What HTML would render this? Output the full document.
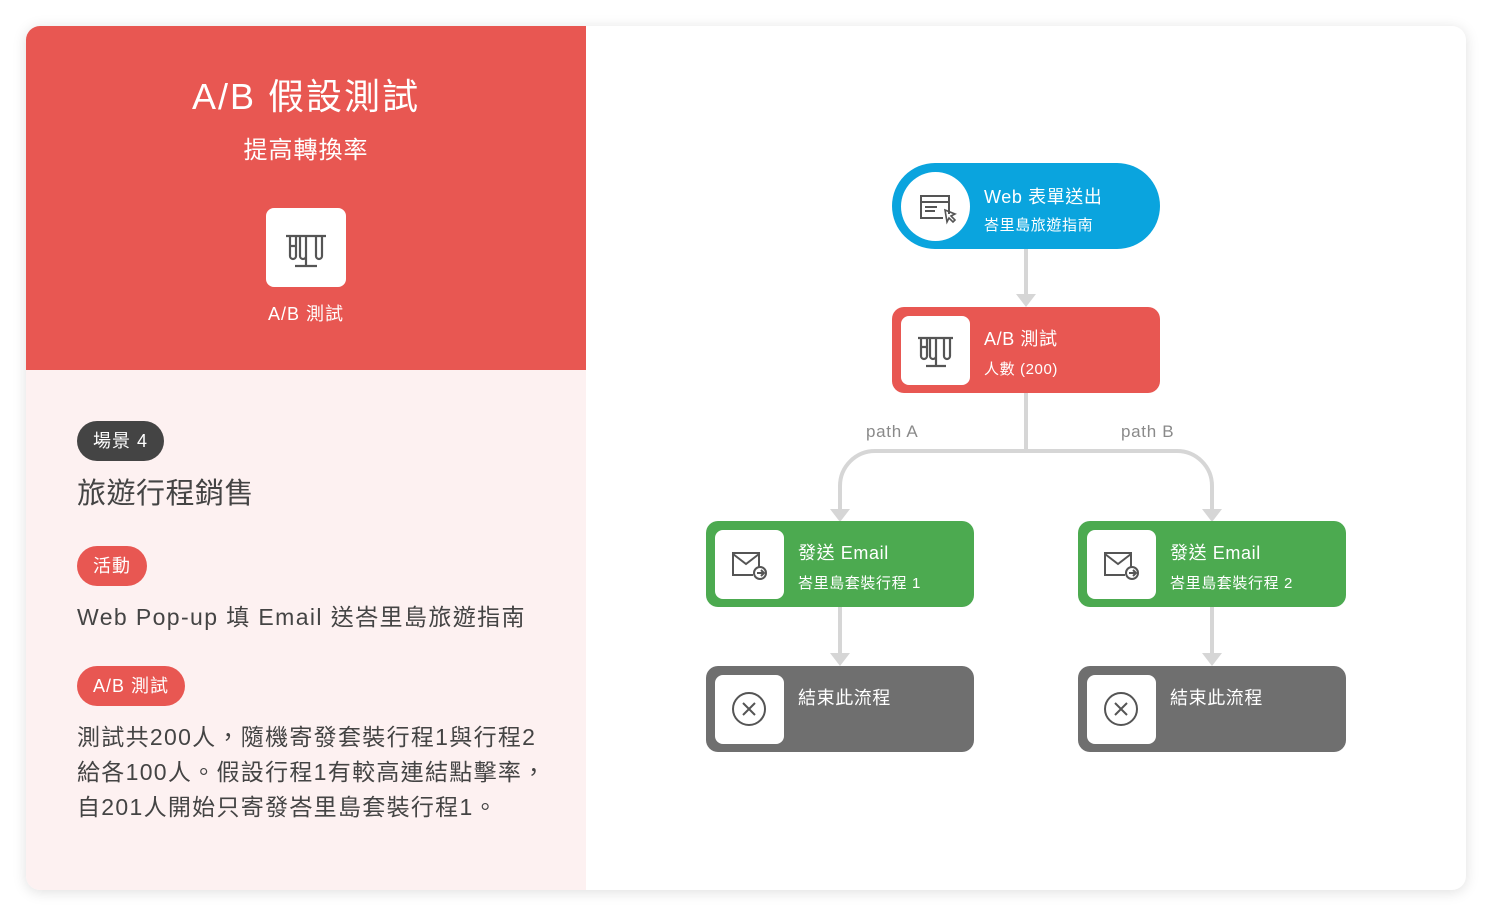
<!DOCTYPE html>
<html><head><meta charset="utf-8">
<style>
*{margin:0;padding:0;box-sizing:border-box}
body{width:1492px;height:916px;background:#fff;position:relative;overflow:hidden;font-family:"Liberation Sans","Noto Sans CJK TC",sans-serif}
.card{position:absolute;left:26px;top:26px;width:1440px;height:864px;border-radius:14px;background:#fff;box-shadow:0 2px 14px rgba(0,0,0,.13);overflow:hidden}
.red{position:absolute;left:0;top:0;width:560px;height:344px;background:#e85752}
.pink{position:absolute;left:0;top:344px;width:560px;height:520px;background:#fdf1f1}
.a{position:absolute;white-space:nowrap}
.pill{position:absolute;height:40px;border-radius:20px;color:#fff;font-size:18px;line-height:40px;padding:0 16px;letter-spacing:1px}
.node{position:absolute;width:268px;height:86px;border-radius:12px;color:#fff;letter-spacing:.6px}
.ib{position:absolute;left:9px;top:9px;width:69px;height:69px;background:#fff;border-radius:8px}
.t1{position:absolute;left:92px;top:18px;font-size:18px}
.t2{position:absolute;left:92px;top:51px;font-size:15px}
</style></head><body>
<div class="card">
<div class="red"></div>
<div class="pink"></div>
<div class="a" style="left:0;width:560px;text-align:center;top:42px;font-size:36px;color:#fff;letter-spacing:2px">A/B 假設測試</div>
<div class="a" style="left:0;width:560px;text-align:center;top:104px;font-size:24px;color:#fff;letter-spacing:1px">提高轉換率</div>
<div class="a" style="left:240px;top:182px;width:80px;height:79px;background:#fff;border-radius:8px">
<svg width="80" height="79" viewBox="0 0 80 79"><g fill="none" stroke="#555" stroke-width="2.2"><path d="M20 28h40M24 28v20a3 3 0 0 0 6 0V28M34 28v20a3 3 0 0 0 6 0V28M50 28v20a3 3 0 0 0 6 0V28M40 28v30M29 58h22M24 38h6"/></g></svg></div>
<div class="a" style="left:0;width:560px;text-align:center;top:274px;font-size:18px;color:#fff;letter-spacing:1px">A/B 測試</div>

<div class="pill" style="left:51px;top:395px;background:#444">場景 4</div>
<div class="a" style="left:51px;top:444px;font-size:29px;color:#444;letter-spacing:.5px">旅遊行程銷售</div>
<div class="pill" style="left:51px;top:520px;background:#e85752">活動</div>
<div class="a" style="left:51px;top:572px;font-size:23px;color:#444;letter-spacing:1.4px">Web Pop-up 填 Email 送峇里島旅遊指南</div>
<div class="pill" style="left:51px;top:640px;background:#e85752">A/B 測試</div>
<div class="a" style="left:51px;top:694px;font-size:23px;line-height:35px;color:#444;letter-spacing:1.3px">測試共200人，隨機寄發套裝行程1與行程2<br>給各100人。假設行程1有較高連結點擊率，<br>自201人開始只寄發峇里島套裝行程1。</div>
</div>

<svg style="position:absolute;left:0;top:0" width="1492" height="916">
<g fill="none" stroke="#d6d6d6" stroke-width="4">
<path d="M1026 249V296"/>
<path d="M1026 393V451M1026 451H875a35 35 0 0 0 -35 35V510M1026 451H1177a35 35 0 0 1 35 35V510"/>
<path d="M840 607V655M1212 607V655"/>
</g>
<g fill="#d6d6d6">
<path d="M1016 294h20l-10 13z"/>
<path d="M830 509h20l-10 13z"/><path d="M1202 509h20l-10 13z"/>
<path d="M830 653h20l-10 13z"/><path d="M1202 653h20l-10 13z"/>
</g>
</svg>
<div class="a" style="left:866px;top:422px;font-size:17px;color:#8a8a8a;letter-spacing:.7px">path A</div>
<div class="a" style="left:1121px;top:422px;font-size:17px;color:#8a8a8a;letter-spacing:.7px">path B</div>

<div class="node" style="left:892px;top:163px;border-radius:43px;background:#0aa4de">
<div class="a" style="left:9px;top:9px;width:69px;height:69px;border-radius:50%;background:#fff">
<svg width="69" height="69"><g fill="none" stroke="#555" stroke-width="2"><path d="M48 42V24H20v22h22M20 30h28M24 35h12M24 39h10"/><path d="M44 38l10 4-4 2 4 4-2 2-4-4-2 4z" stroke-width="1.6"/></g></svg></div>
<div class="t1" style="top:20px">Web 表單送出</div><div class="t2" style="top:51px">峇里島旅遊指南</div></div>

<div class="node" style="left:892px;top:307px;background:#e85752"><div class="ib">
<svg width="69" height="69"><g fill="none" stroke="#555" stroke-width="2.2"><path d="M17 22h35M20 22v18a3 3 0 0 0 6 0V22M29 22v18a3 3 0 0 0 6 0V22M43 22v18a3 3 0 0 0 6 0V22M35 22v28M25 50h20M20 31h6"/></g></svg></div>
<div class="t1">A/B 測試</div><div class="t2">人數 (200)</div></div>

<div class="node" style="left:706px;top:521px;background:#4caa50"><div class="ib">
<svg width="69" height="69"><g fill="none" stroke="#555" stroke-width="2"><path d="M44 38V23H18v22h20M18 24l13 10 13-10"/><circle cx="45" cy="43" r="6"/><path d="M42 43h6M46 40l3 3-3 3"/></g></svg></div>
<div class="t1">發送 Email</div><div class="t2">峇里島套裝行程 1</div></div>

<div class="node" style="left:1078px;top:521px;background:#4caa50"><div class="ib">
<svg width="69" height="69"><g fill="none" stroke="#555" stroke-width="2"><path d="M44 38V23H18v22h20M18 24l13 10 13-10"/><circle cx="45" cy="43" r="6"/><path d="M42 43h6M46 40l3 3-3 3"/></g></svg></div>
<div class="t1">發送 Email</div><div class="t2">峇里島套裝行程 2</div></div>

<div class="node" style="left:706px;top:666px;background:#6f6f6f"><div class="ib">
<svg width="69" height="69"><g fill="none" stroke="#555" stroke-width="2"><circle cx="34" cy="34" r="16"/><path d="M28 28l12 12M40 28l-12 12"/></g></svg></div>
<div class="t1">結束此流程</div></div>

<div class="node" style="left:1078px;top:666px;background:#6f6f6f"><div class="ib">
<svg width="69" height="69"><g fill="none" stroke="#555" stroke-width="2"><circle cx="34" cy="34" r="16"/><path d="M28 28l12 12M40 28l-12 12"/></g></svg></div>
<div class="t1">結束此流程</div></div>
</body></html>
